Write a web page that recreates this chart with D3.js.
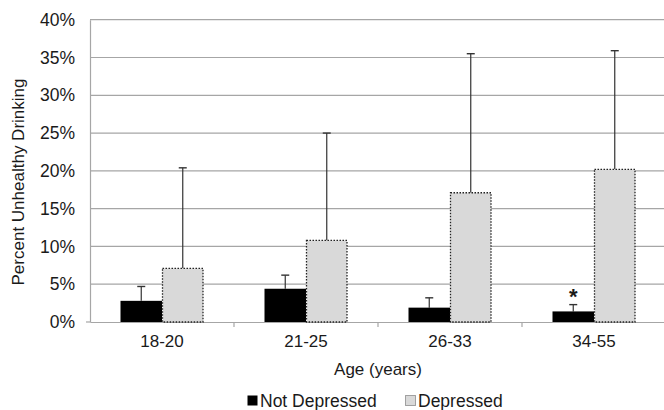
<!DOCTYPE html>
<html>
<head>
<meta charset="utf-8">
<script src="https://cdn.jsdelivr.net/npm/d3@7"></script>
<style>
  body { margin: 0; background: #fff; }
  text { font-family: "Liberation Sans", Arial, sans-serif; fill: #1a1a1a; }
</style>
</head>
<body>
<svg id="chart" width="664" height="410"></svg>
<script>
// data (percent)
const ageGroups = ['18-20', '21-25', '26-33', '34-55'];
const seriesNames = ['Not Depressed', 'Depressed'];
const notDepressed = [2.8, 4.4, 1.9, 1.4];
const notDepressedErr = [4.7, 6.2, 3.2, 2.3];   // top of error bar
const depressed = [7.1, 10.8, 17.1, 20.2];
const depressedErr = [20.4, 25.0, 35.5, 35.9];
const significant = [false, false, false, true]; // asterisk on Not Depressed
const yTicks = [0, 5, 10, 15, 20, 25, 30, 35, 40];

let svg = d3.select('#chart');
let margin = { left: 90, right: -2, top: 19.7, bottom: 88 };
let width = 664 - margin.left - margin.right;
let height = 410 - margin.top - margin.bottom;
let g = svg.append('g').attr('transform', `translate(${margin.left},${margin.top})`);

let x = d3.scaleBand().domain(ageGroups).range([0, width]);
let x1 = d3.scaleBand().domain(seriesNames).range([0, 83]);
let y = d3.scaleLinear().domain([0, 40]).range([height, 0]);

// gridlines
g.append('g')
  .selectAll('line')
  .data(yTicks.slice(1))
  .enter().append('line')
  .attr('x1', 0).attr('x2', width)
  .attr('y1', d => y(d)).attr('y2', d => y(d))
  .attr('stroke', '#a6a6a6')
  .attr('stroke-width', 1.2);

// y axis
let yAxis = g.append('g')
  .call(d3.axisLeft(y).tickValues(yTicks).tickSize(0).tickPadding(15).tickFormat(d => d + '%'));
yAxis.select('.domain').attr('stroke', '#a6a6a6').attr('stroke-width', 1.2);
yAxis.selectAll('text').attr('font-size', 17.5).attr('fill', '#1a1a1a')
  .style('font-family', '"Liberation Sans", Arial, sans-serif');
g.append('line').attr('x1', -4).attr('x2', 0).attr('y1', height).attr('y2', height)
  .attr('stroke', '#a6a6a6').attr('stroke-width', 1.2);

// x axis
let xAxis = g.append('g').attr('transform', `translate(0,${height})`)
  .call(d3.axisBottom(x).tickSize(0).tickPadding(13));
xAxis.select('.domain').attr('stroke', '#a6a6a6').attr('stroke-width', 1.2);
xAxis.selectAll('text').attr('font-size', 17).attr('fill', '#1a1a1a')
  .style('font-family', '"Liberation Sans", Arial, sans-serif');
g.append('g')
  .selectAll('line')
  .data(ageGroups.slice(1))
  .enter().append('line')
  .attr('x1', d => x(d)).attr('x2', d => x(d))
  .attr('y1', height).attr('y2', height + 5)
  .attr('stroke', '#a6a6a6').attr('stroke-width', 1.2);

// bars
let rows = ageGroups.map((a, i) => ({
  age: a,
  vals: [
    { key: seriesNames[0], v: notDepressed[i], err: notDepressedErr[i], star: significant[i] },
    { key: seriesNames[1], v: depressed[i], err: depressedErr[i], star: false }
  ]
}));

let group = g.append('g')
  .selectAll('g')
  .data(rows)
  .enter().append('g')
  .attr('transform', d => `translate(${x(d.age) + (x.bandwidth() - 83) / 2},0)`);

// error bars first so bars cover the stem base
let eb = group.selectAll('g.err')
  .data(d => d.vals)
  .enter().append('g').attr('class', 'err');
eb.append('line')
  .attr('x1', d => x1(d.key) + x1.bandwidth() / 2)
  .attr('x2', d => x1(d.key) + x1.bandwidth() / 2)
  .attr('y1', d => y(d.v)).attr('y2', d => y(d.err))
  .attr('stroke', '#333').attr('stroke-width', 1.2);
eb.append('line')
  .attr('x1', d => x1(d.key) + x1.bandwidth() / 2 - 4)
  .attr('x2', d => x1(d.key) + x1.bandwidth() / 2 + 4)
  .attr('y1', d => y(d.err)).attr('y2', d => y(d.err))
  .attr('stroke', '#333').attr('stroke-width', 1.4);

group.selectAll('rect')
  .data(d => d.vals)
  .enter().append('rect')
  .attr('x', d => x1(d.key) + (d.key === 'Depressed' ? 0.5 : 0))
  .attr('width', d => x1.bandwidth() - (d.key === 'Depressed' ? 1 : 0))
  .attr('y', d => y(d.v))
  .attr('height', d => y(0) - y(d.v))
  .attr('fill', d => d.key === 'Depressed' ? '#d9d9d9' : '#000')
  .attr('stroke', d => d.key === 'Depressed' ? '#222' : 'none')
  .attr('stroke-width', 1.3)
  .attr('stroke-dasharray', '1.5,1.5');

group.selectAll('text.star')
  .data(d => d.vals.filter(v => v.star))
  .enter().append('text')
  .attr('class', 'star')
  .attr('x', d => x1(d.key) + x1.bandwidth() / 2)
  .attr('y', d => y(d.err) - 1)
  .attr('text-anchor', 'middle')
  .attr('font-size', 22)
  .attr('font-weight', 'bold')
  .text('*');

// axis titles
g.append('text')
  .attr('x', width / 2).attr('y', height + 53)
  .attr('text-anchor', 'middle').attr('font-size', 17)
  .text('Age (years)');
svg.append('text')
  .attr('transform', 'translate(24,182) rotate(-90)')
  .attr('text-anchor', 'middle').attr('font-size', 17)
  .text('Percent Unhealthy  Drinking');

// legend
let legend = svg.append('g').attr('transform', 'translate(247,401)');
let li = legend.selectAll('g')
  .data(seriesNames)
  .enter().append('g')
  .attr('transform', (d, i) => `translate(${i * 158},0)`);
li.append('rect')
  .attr('x', 0.5).attr('y', -5.5).attr('width', 10).attr('height', 10)
  .attr('fill', d => d === 'Depressed' ? '#d9d9d9' : '#000')
  .attr('stroke', d => d === 'Depressed' ? '#555' : 'none')
  .attr('stroke-dasharray', '1,1');
li.append('text')
  .attr('x', 13).attr('dy', '0.35em')
  .attr('font-size', 17.5)
  .text(d => d);
</script>
</body>
</html>
